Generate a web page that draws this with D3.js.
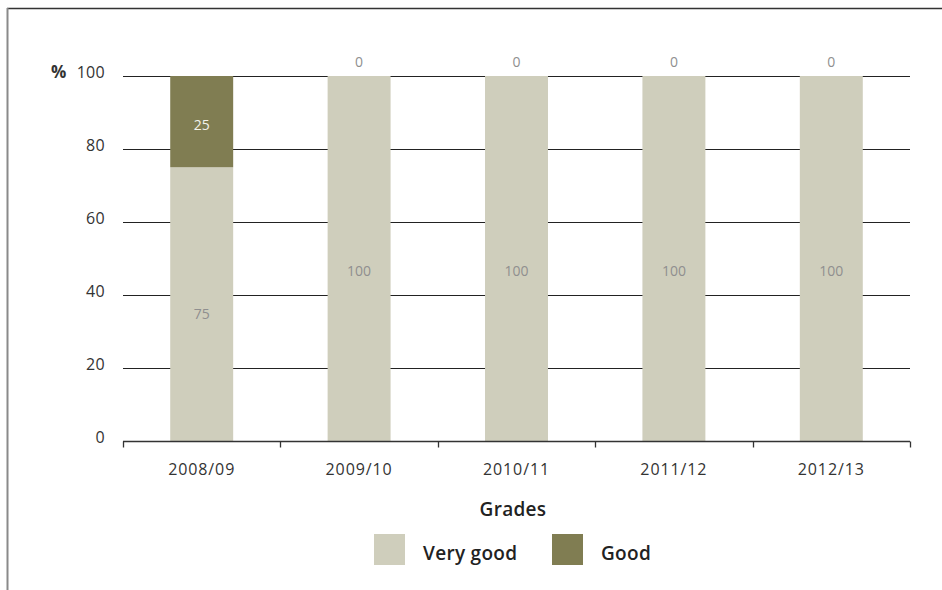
<!DOCTYPE html>
<html>
<head>
<meta charset="utf-8">
<script src="https://cdn.jsdelivr.net/npm/d3@7"></script>
<style>
  html, body { margin: 0; padding: 0; background: #fff; }
  svg { display: block; font-family: "Open Sans", "DejaVu Sans", sans-serif; }
</style>
</head>
<body>
<svg id="chart" width="942" height="590"></svg>
<script>
// Year categories and grade shares (%)
const years = ["2008/09", "2009/10", "2010/11", "2011/12", "2012/13"];
const veryGood = [75, 100, 100, 100, 100];
const good = [25, 0, 0, 0, 0];
const seriesNames = ["Very good", "Good"];
const seriesColors = ["#cfcebc", "#807d52"];
const yTicks = [0, 20, 40, 60, 80, 100];

const svg = d3.select("#chart");
const margin = { left: 123, right: 910, top: 76, bottom: 441 };

const x = d3.scaleBand().domain(years)
  .range([margin.left, margin.right])
  .paddingInner(0.6).paddingOuter(0.3);
const y = d3.scaleLinear().domain([0, 100]).range([margin.bottom, margin.top]);

// frame lines
svg.append("line").attr("x1", 7).attr("x2", 942).attr("y1", 8.5).attr("y2", 8.5)
  .attr("stroke", "#333").attr("stroke-width", 1.3);
svg.append("line").attr("x1", 7.5).attr("x2", 7.5).attr("y1", 8).attr("y2", 590)
  .attr("stroke", "#8a8a8a").attr("stroke-width", 2);

// gridlines
svg.append("g").selectAll("line").data(yTicks.filter(d => d > 0)).join("line")
  .attr("x1", margin.left).attr("x2", margin.right)
  .attr("y1", d => Math.round(y(d)) + 0.5).attr("y2", d => Math.round(y(d)) + 0.5)
  .attr("stroke", "#222").attr("stroke-width", 1);

// y tick labels
svg.append("g").selectAll("text").data(yTicks).join("text")
  .attr("x", 105).attr("y", d => y(d) + 2)
  .attr("text-anchor", "end").attr("font-size", 16).attr("fill", "#333")
  .attr("letter-spacing", 0.3)
  .text(d => d);
svg.append("text").attr("x", 51).attr("y", y(100) + 2)
  .attr("font-size", 17).attr("font-weight", 700).attr("fill", "#333").text("%");

// stacked bars
const rows = years.map((yr, i) => ({ year: yr, "Very good": veryGood[i], "Good": good[i] }));
const stacked = d3.stack().keys(seriesNames)(rows);
const color = d3.scaleOrdinal().domain(seriesNames).range(seriesColors);

stacked.forEach(layer => {
  svg.append("g").attr("fill", color(layer.key)).selectAll("rect").data(layer).join("rect")
    .attr("x", d => x(d.data.year))
    .attr("width", x.bandwidth())
    .attr("y", d => y(d[1]))
    .attr("height", d => y(d[0]) - y(d[1]));
});

// value labels
stacked.forEach(layer => {
  svg.append("g").selectAll("text").data(layer).join("text")
    .attr("x", d => x(d.data.year) + x.bandwidth() / 2)
    .attr("y", d => {
      const v = d[1] - d[0];
      return v === 0 ? y(d[1]) - 9 : y(d[1]) + 0.535 * (y(d[0]) - y(d[1])) + 5;
    })
    .attr("text-anchor", "middle").attr("font-size", 14)
    .attr("fill", d => (layer.key === "Good" && d[1] - d[0] > 0) ? "#f2f2ea" : "#8f8f8f")
    .text(d => d[1] - d[0]);
});

// x axis
const xAxis = svg.append("g").attr("transform", `translate(0,${margin.bottom + 0.5})`);
xAxis.append("line").attr("x1", margin.left).attr("x2", margin.right)
  .attr("stroke", "#333").attr("stroke-width", 1.3);
const bounds = years.map((d, i) => i === 0 ? margin.left : x(d) - x.step() * x.paddingInner() / 2);
bounds.push(margin.right);
xAxis.selectAll(".tick").data(bounds).join("line")
  .attr("x1", d => Math.round(d) + 0.5).attr("x2", d => Math.round(d) + 0.5)
  .attr("y1", 0).attr("y2", 6).attr("stroke", "#333").attr("stroke-width", 1.3);
svg.append("g").selectAll("text").data(years).join("text")
  .attr("x", d => x(d) + x.bandwidth() / 2).attr("y", 475)
  .attr("text-anchor", "middle").attr("font-size", 16).attr("fill", "#333")
  .attr("letter-spacing", 0.9)
  .text(d => d);

// legend
svg.append("text").attr("x", 513).attr("y", 516).attr("text-anchor", "middle")
  .attr("font-size", 19).attr("font-weight", 600).attr("fill", "#222")
  .attr("letter-spacing", 0.3).text("Grades");
const legendX = [374, 552];
const lg = svg.append("g").selectAll("g").data(seriesNames).join("g")
  .attr("transform", (d, i) => `translate(${legendX[i]},534)`);
lg.append("rect").attr("width", 31).attr("height", 31).attr("fill", d => color(d));
lg.append("text").attr("x", 49).attr("y", 26).attr("font-size", 19)
  .attr("font-weight", 600).attr("fill", "#222").attr("letter-spacing", 0.3)
  .text(d => d);
</script>
</body>
</html>
